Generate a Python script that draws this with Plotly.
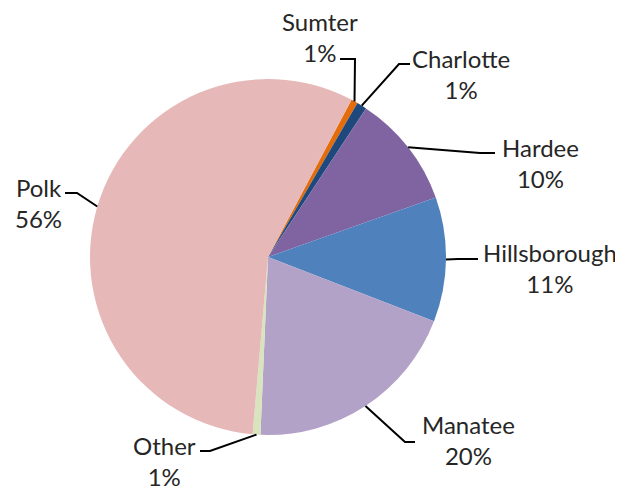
import math
import plotly.graph_objects as go

# ---- data ----
labels = ["Sumter", "Charlotte", "Hardee", "Hillsborough", "Manatee", "Other", "Polk"]
values = [0.6, 0.9, 10.3, 11.3, 19.8, 0.7, 56.4]

# ---- style ----
colors = ["#E46C0A", "#1F497D", "#8064A2", "#4F81BD", "#B3A2C7", "#D7E4BD", "#E6B9B8"]
PAGE_OFF = 8                        # browser body margin
W, H = 623 - PAGE_OFF, 491 - PAGE_OFF
CX, CY, R = 268, 257, 178          # pie centre / radius in window pixels
ROTATION = 28                       # first slice start, degrees clockwise from 12 o'clock
FONT = dict(family="Lato, Liberation Sans, sans-serif", size=24, color="#262626")

# label layout: text block centre, elbow point, horizontal end of leader line (window pixels)
label_layout = {
    "Sumter":       dict(text=(320, 37),  elbow=(355, 59),  end=(340, 59)),
    "Charlotte":    dict(text=(461, 74),  elbow=(399, 64),  end=(410, 64)),
    "Hardee":       dict(text=(540, 163), elbow=(480, 153), end=(495, 153)),
    "Hillsborough": dict(text=(550, 268), elbow=(458, 259), end=(478, 259)),
    "Manatee":      dict(text=(468, 440), elbow=(405, 442), end=(415, 442)),
    "Other":        dict(text=(164, 461), elbow=(210, 451), end=(200, 451)),
    "Polk":         dict(text=(38, 203),  elbow=(77, 193),  end=(65, 193)),
}

def px_to_paper(x, y):
    return (x - PAGE_OFF) / W, 1 - (y - PAGE_OFF) / H

x0, y1 = px_to_paper(CX - R, CY - R)
x1, y0 = px_to_paper(CX + R, CY + R)

fig = go.Figure(go.Pie(
    labels=labels, values=values, sort=False, direction="clockwise",
    rotation=ROTATION, textinfo="none", hoverinfo="label+percent",
    marker=dict(colors=colors, line=dict(width=0)),
    domain=dict(x=[x0, x1], y=[y0, y1]), showlegend=False,
))

total = sum(values)
cum = 0.0
shapes, annotations = [], []
for lab, v in zip(labels, values):
    mid = math.radians(ROTATION + (cum + v / 2) / total * 360)
    cum += v
    sx, sy = CX + R * math.sin(mid), CY - R * math.cos(mid)
    lay = label_layout[lab]
    ex, ey = lay["elbow"]
    hx, hy = lay["end"]
    pts = [px_to_paper(sx, sy), px_to_paper(ex, ey), px_to_paper(hx, hy)]
    path = "M {} {} L {} {} L {} {}".format(*[c for p in pts for c in p])
    shapes.append(dict(type="path", xref="paper", yref="paper", path=path,
                       line=dict(color="#000000", width=2)))
    tx, ty = px_to_paper(*lay["text"])
    annotations.append(dict(
        x=tx, y=ty, xref="paper", yref="paper", xanchor="center", yanchor="middle",
        text=f"{lab}<br>{round(v / total * 100)}%", showarrow=False, align="center",
        font=FONT))

fig.update_layout(
    width=W, height=H, margin=dict(l=0, r=0, t=0, b=0),
    paper_bgcolor="white", plot_bgcolor="white",
    shapes=shapes, annotations=annotations,
)

fig.write_html("out.html")
